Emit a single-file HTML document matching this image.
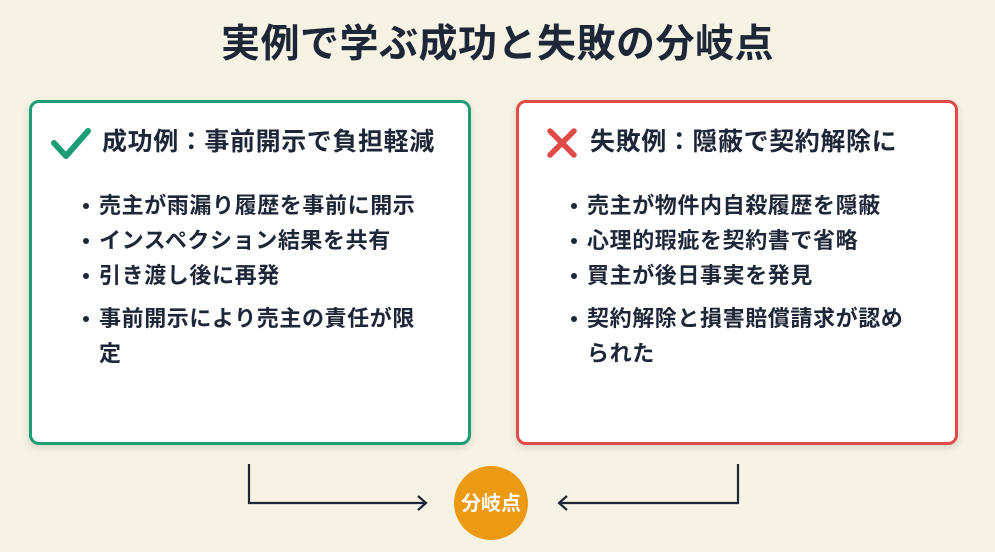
<!DOCTYPE html>
<html><head><meta charset="utf-8"><style>
body{margin:0;width:995px;height:552px;background:#f6f2e4;font-family:"Liberation Sans","Noto Sans CJK JP",sans-serif;position:relative;overflow:hidden;color:#1e2738}
.t{position:absolute;top:19px;left:0;width:995px;text-align:center;font-size:39px;font-weight:bold;line-height:52px;letter-spacing:.5px}
.box{position:absolute;top:100px;width:436px;height:339px;background:#fff;border:3px solid;border-radius:10px;box-shadow:0 3px 8px rgba(0,0,0,.12)}
.h{position:absolute;top:124px;font-size:25px;font-weight:bold;line-height:36px;letter-spacing:.6px}
ul{position:absolute;top:188px;margin:0;padding:0;list-style:none;font-size:22px;font-weight:bold;line-height:35px;letter-spacing:.6px}
li{position:relative;padding-left:16px;width:360px;white-space:nowrap}
li.g{margin-top:8px}
li:before{content:"";position:absolute;left:0;top:15px;width:6px;height:6px;border-radius:50%;background:#1e2738}
</style></head><body>
<div class="t">実例で学ぶ成功と失敗の分岐点</div>
<div class="box" style="left:29px;border-color:#1d9d75"></div>
<div class="box" style="left:516px;border-color:#e04a48"></div>
<svg style="position:absolute;left:0;top:0" width="995" height="552">
<path d="M54 143 L66 156 L88 131" fill="none" stroke="#1d9d75" stroke-width="6" stroke-linecap="round" stroke-linejoin="round"/>
<path d="M550 131 L574 155 M574 131 L550 155" stroke="#e04a48" stroke-width="5.5" stroke-linecap="round"/>
<path d="M249 464 V503 H425 M418 496 L426 503 L418 510" fill="none" stroke="#1e2738" stroke-width="2.2"/>
<path d="M738 464 V503 H560 M567 496 L559 503 L567 510" fill="none" stroke="#1e2738" stroke-width="2.2"/>
<circle cx="491" cy="503" r="37" fill="#ec9a14"/>
<text x="491" y="510" text-anchor="middle" font-size="20" font-weight="bold" fill="#fff" font-family="Liberation Sans,Noto Sans CJK JP,sans-serif">分岐点</text>
</svg>
<div class="h" style="left:102px">成功例：事前開示で負担軽減</div>
<div class="h" style="left:590px">失敗例：隠蔽で契約解除に</div>
<ul style="left:83px"><li>売主が雨漏り履歴を事前に開示</li><li>インスペクション結果を共有</li><li>引き渡し後に再発</li><li class="g">事前開示により売主の責任が限<br>定</li></ul>
<ul style="left:571px"><li>売主が物件内自殺履歴を隠蔽</li><li>心理的瑕疵を契約書で省略</li><li>買主が後日事実を発見</li><li class="g">契約解除と損害賠償請求が認め<br>られた</li></ul>
</body></html>
